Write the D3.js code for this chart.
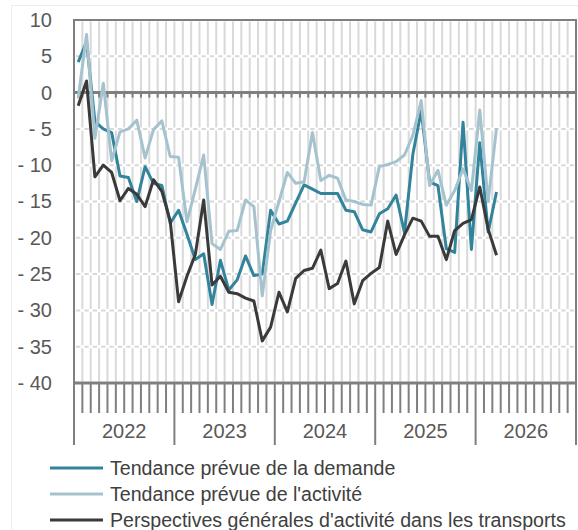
<!DOCTYPE html>
<html>
<head>
<meta charset="utf-8">
<script src="https://cdn.jsdelivr.net/npm/d3@7"></script>
<style>
  body { margin: 0; background: #fff; }
  text { font-family: "Liberation Sans", Arial, sans-serif; }
</style>
</head>
<body>
<script>
// monthly values, Jan 2022 -> Mar 2026
var years = ["2022", "2023", "2024", "2025", "2026"];
var yTicks = [10, 5, 0, -5, -10, -15, -20, -25, -30, -35, -40];
var demande = [4.2, 7, -4, -5, -5.5, -11.5, -11.7, -15, -10.2, -12.5, -12.8, -18,
  -16.2, -19.5, -23, -22.2, -29.2, -23.1, -27.2, -25.8, -22.5, -25.2, -25, -16.2,
  -18.1, -17.7, -15.2, -12.7, -13.3, -13.9, -13.9, -13.9, -16.2, -16.4, -18.9, -19.2,
  -16.7, -16, -14.1, -19.3, -8.5, -2.5, -12.3, -12.8, -21.5, -22, -4.1, -21.6,
  -6.9, -19.2, -13.7];
var activite = [-0.8, 8, -6.3, 1.3, -9.4, -5.4, -5, -3.8, -9, -5.1, -3.9, -8.8,
  -8.9, -17.8, -13.3, -8.6, -20.8, -21.6, -19.1, -19, -14.8, -15.7, -28, -19,
  -15, -11, -12.5, -12.3, -5.5, -12.1, -11.4, -11.8, -14.8, -15, -15.4, -15.5,
  -10.2, -9.9, -9.5, -8.6, -5.9, -1.1, -12.8, -10.7, -15.5, -13.5, -10.5, -13.5,
  -2.4, -15, -4.9];
var transports = [-1.8, 1.6, -11.6, -10, -11, -14.9, -13.2, -14, -15.7, -12, -13.6, -17.7,
  -28.8, -25.3, -22.3, -14.8, -26.5, -25.3, -27.5, -27.7, -28.3, -28.7, -34.2, -32.3,
  -27.5, -30.2, -25.6, -24.5, -24.2, -21.7, -27, -26.3, -23.2, -29.1, -25.9, -24.9,
  -24.1, -17.7, -22.3, -19.6, -17.3, -17.7, -19.8, -19.8, -23, -19, -18, -17.5,
  -13, -18.8, -22.4];
var seriesNames = ["Tendance prévue de la demande", "Tendance prévue de l'activité",
  "Perspectives générales d'activité dans les transports"];
var seriesColors = ["#31849b", "#a5c3cf", "#3a3a3a"];

var width = 578, height = 530;
var plot = {left: 74, right: 576, top: 20, bottom: 383};
var axisGrey = "#7f7f7f", gridGrey = "#d9d9d9";

var svg = d3.select("body").append("svg")
    .attr("width", width)
    .attr("height", height);

// faint chart frame
svg.append("rect")
    .attr("x", 11.5).attr("y", 5.5)
    .attr("width", 600).attr("height", 600)
    .attr("fill", "none").attr("stroke", "#ededed");

var nMonths = years.length * 12;
var x = d3.scaleLinear().domain([0, nMonths]).range([plot.left, plot.right]);
var y = d3.scaleLinear().domain([-40, 10]).range([plot.bottom, plot.top]);
var monthW = x(1) - x(0), rowH = y(5) - y(10);
var bounds = d3.range(0, nMonths + 1);

// vertical grid (month boundaries), broken at the horizontal rows
svg.append("g").selectAll("line")
    .data(bounds.slice(1, -1))
  .enter().append("line")
    .attr("x1", d => x(d)).attr("x2", d => x(d))
    .attr("y1", plot.top).attr("y2", plot.bottom)
    .attr("stroke", gridGrey).attr("stroke-width", 2)
    .attr("stroke-dasharray", (rowH - 3) + "," + 3)
    .attr("stroke-dashoffset", rowH - 1.5);

// horizontal dashed grid
svg.append("g").selectAll("line")
    .data(yTicks.filter(d => d != 0 && d != 10 && d != -40))
  .enter().append("line")
    .attr("x1", plot.left).attr("x2", plot.right)
    .attr("y1", d => y(d)).attr("y2", d => y(d))
    .attr("stroke", gridGrey).attr("stroke-width", 2)
    .attr("stroke-dasharray", (monthW - 4) + "," + 4)
    .attr("stroke-dashoffset", monthW - 2);

// plot border (top, right, left)
svg.append("path")
    .attr("d", "M" + plot.left + "," + plot.bottom + "V" + plot.top + "H" + plot.right + "V" + plot.bottom)
    .attr("fill", "none").attr("stroke", axisGrey).attr("stroke-width", 2);

// zero line with small month ticks
svg.append("line")
    .attr("x1", plot.left).attr("x2", plot.right)
    .attr("y1", y(0)).attr("y2", y(0))
    .attr("stroke", axisGrey).attr("stroke-width", 3);
svg.append("g").selectAll("line")
    .data(bounds)
  .enter().append("line")
    .attr("x1", d => x(d)).attr("x2", d => x(d))
    .attr("y1", y(0)).attr("y2", y(0) + 5)
    .attr("stroke", axisGrey).attr("stroke-width", 2);

// bottom category axis: month ticks + longer year ticks
svg.append("line")
    .attr("x1", plot.left).attr("x2", plot.right)
    .attr("y1", plot.bottom).attr("y2", plot.bottom)
    .attr("stroke", axisGrey).attr("stroke-width", 3);
svg.append("g").selectAll("line")
    .data(bounds)
  .enter().append("line")
    .attr("x1", d => x(d)).attr("x2", d => x(d))
    .attr("y1", plot.bottom)
    .attr("y2", d => d % 12 == 0 ? plot.bottom + 62 : plot.bottom + 30)
    .attr("stroke", axisGrey).attr("stroke-width", 2);

// year labels
var xYear = d3.scaleBand().domain(years).range([plot.left, plot.right]);
svg.append("g")
    .attr("transform", "translate(0," + plot.bottom + ")")
    .call(d3.axisBottom(xYear).tickSize(0).tickPadding(41))
    .call(g => g.select(".domain").remove())
    .selectAll("text")
    .attr("font-size", 20).attr("fill", "#595959")
    .attr("font-family", "Liberation Sans, Arial, sans-serif");

// y labels
svg.append("g")
    .attr("transform", "translate(" + plot.left + ",0)")
    .call(d3.axisLeft(y).tickValues(yTicks).tickSize(0).tickPadding(22)
      .tickFormat(d => d < 0 ? "- " + Math.abs(d) : d))
    .call(g => g.select(".domain").remove())
    .selectAll("text")
    .attr("font-size", 20).attr("fill", "#595959")
    .attr("font-family", "Liberation Sans, Arial, sans-serif");

// series
var valueline = d3.line()
    .x(function(d, i) { return x(i + 0.5); })
    .y(function(d) { return y(d); });

[demande, activite, transports].forEach(function(s, k) {
  svg.append("path")
      .data([s])
      .attr("d", valueline)
      .attr("fill", "none")
      .attr("stroke", seriesColors[k])
      .attr("stroke-width", 3)
      .attr("stroke-linejoin", "round");
});

// legend
var legend = svg.append("g").selectAll("g")
    .data(seriesNames)
  .enter().append("g")
    .attr("transform", (d, i) => "translate(0," + (468 + i * 26) + ")");
legend.append("line")
    .attr("x1", 50).attr("x2", 103)
    .attr("stroke", (d, i) => seriesColors[i]).attr("stroke-width", 3);
legend.append("text")
    .attr("x", 110).attr("dy", "0.35em")
    .attr("font-size", 19.6).attr("fill", "#404040")
    .text(d => d);
</script>
</body>
</html>
